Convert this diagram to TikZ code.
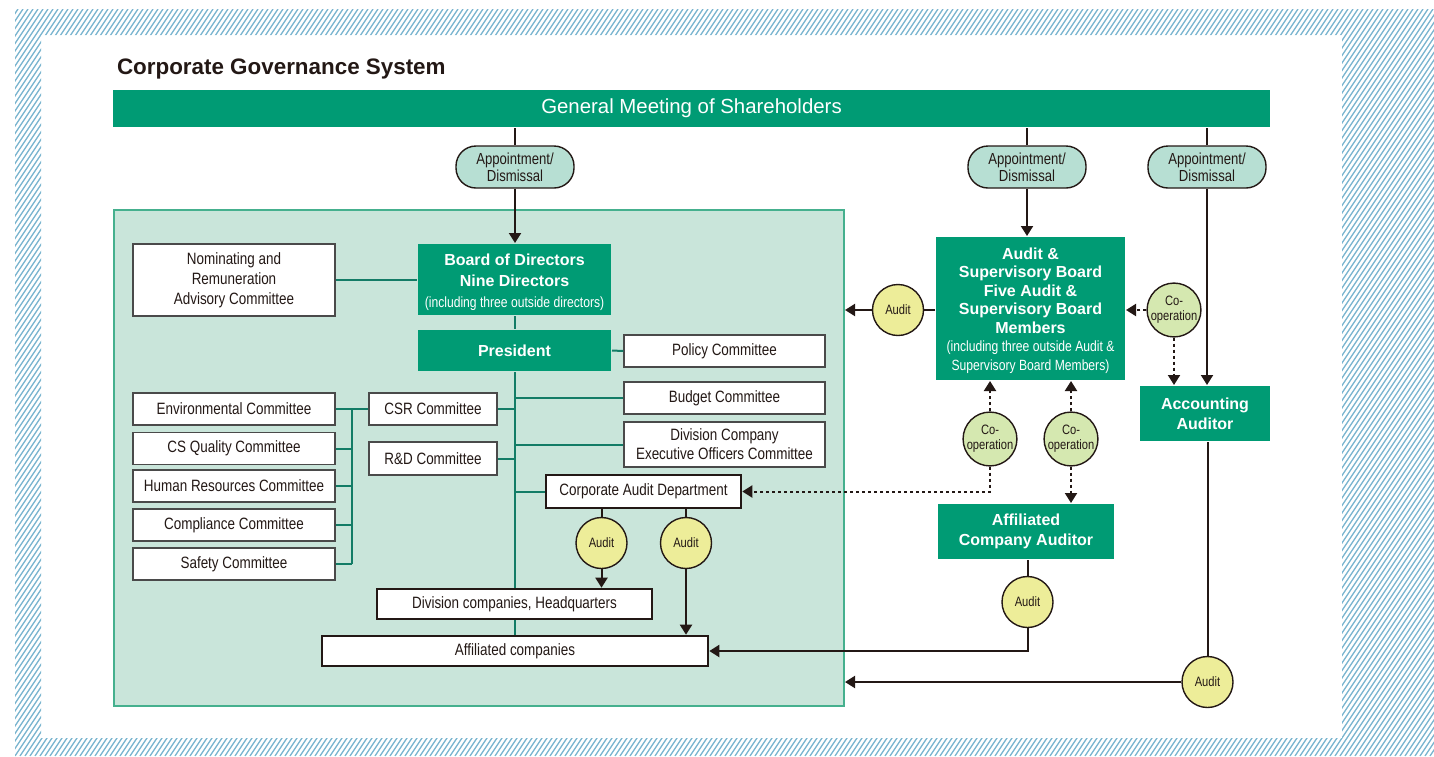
\documentclass[tikz,border=0pt]{standalone}
\usepackage{fontspec}
\setmainfont{Liberation Sans}
\newfontfamily\condfont[FakeStretch=0.82]{Liberation Sans}
\usetikzlibrary{arrows.meta}

\definecolor{govgreen}{HTML}{009B74}
\definecolor{panelfill}{HTML}{C9E5DA}
\definecolor{panelline}{HTML}{45B08E}
\definecolor{linkgreen}{HTML}{137C66}
\definecolor{pillfill}{HTML}{B7DFD3}
\definecolor{auditfill}{HTML}{EDED99}
\definecolor{coopfill}{HTML}{D5E8B0}
\definecolor{ink}{HTML}{231815}
\definecolor{boxgray}{HTML}{4A4A4A}
\definecolor{hatchblue}{HTML}{7AB5CF}

\newcommand\smallnote[1]{{\condfont\mdseries\fontsize{7.4}{9.2}\selectfont #1}}

\begin{document}
\begin{tikzpicture}[x=0.5pt, y=-0.5pt, line width=1pt, ink,
    greenbox/.style = {fill = govgreen, text = white, inner sep = 0pt, align = center,
                       font = \bfseries\fontsize{8}{10}\selectfont},
    combox/.style = {draw = boxgray, fill = white, text = ink, line width = 0.7pt, inner sep = 0pt,
                     align = center, font = \condfont\fontsize{8.2}{9.6}\selectfont},
    unitbox/.style = {combox, draw = ink, line width = 1.3pt},
    pill/.style = {draw = ink, fill = pillfill, line width = 0.7pt, rounded corners = 10pt,
                   minimum width = 59pt, minimum height = 21pt, inner sep = 0pt, align = center,
                   font = \condfont\fontsize{8}{8.6}\selectfont},
    auditc/.style = {circle, draw = ink, fill = auditfill, line width = 0.7pt, minimum size = 25.5pt,
                     inner sep = 0pt, font = \condfont\fontsize{6.8}{7}\selectfont},
    coopc/.style = {circle, draw = ink, fill = coopfill, line width = 0.7pt, minimum size = 26pt,
                    inner sep = 0pt, align = center, font = \condfont\fontsize{6.8}{7.6}\selectfont},
    link/.style = {linkgreen, line width = 1pt},
    arr/.style = {-{Triangle[width=6pt,length=5pt]}},
    coarr/.style = {arr, dash pattern = on 1.5pt off 1.5pt}]

  \useasboundingbox (0,0) rectangle (1434,756);

  % hatched frame
  \begin{scope}[even odd rule]
    \clip (15,9) rectangle (1434,756) (41,35) rectangle (1342,738);
    \foreach \x in {-500,-495,...,1434}
      \draw[hatchblue, line width = 0.65pt] (\x,756) -- ++(498,-747);
  \end{scope}

  \node[anchor = base west, inner sep = 0pt, font = \bfseries\fontsize{11.2}{13}\selectfont] (title)
    at (116,74) {Corporate Governance System};
  \node[greenbox, minimum width = 578.5pt, minimum height = 18.5pt, font = \fontsize{10.2}{12}\selectfont]
    (gm) at (691.5,108.5) {General Meeting of Shareholders};

  \node[draw = panelline, fill = panelfill, line width = 1pt, minimum width = 365pt,
        minimum height = 248pt, inner sep = 0pt] (panel) at (479,458) {};

  \node[pill] (ap1) at (515,167) {Appointment/\\Dismissal};
  \node[pill] (ap2) at (1027,167) {Appointment/\\Dismissal};
  \node[pill] (ap3) at (1207,167) {Appointment/\\Dismissal};

  % executive side
  \node[greenbox, minimum width = 96.5pt, minimum height = 35.5pt, font = \bfseries\fontsize{8}{10.5}\selectfont]
    (board) at (514.5,279.5) {\rule{0pt}{9pt}Board of Directors\\Nine Directors\\\smallnote{(including three outside directors)}};
  \node[combox, minimum width = 101pt, minimum height = 36pt, font = \condfont\fontsize{8.2}{10}\selectfont]
    (nom) at (234,280) {Nominating and\\Remuneration\\Advisory Committee};
  \node[greenbox, minimum width = 96.5pt, minimum height = 20.5pt] (pres) at (514.5,350.5) {President};
  \node[combox, minimum width = 100.5pt, minimum height = 16pt] (policy) at (724.5,351) {Policy Committee};
  \node[combox, minimum width = 100.5pt, minimum height = 16pt] (budget) at (724.5,398) {Budget Committee};
  \node[combox, minimum width = 100.5pt, minimum height = 22.5pt] (divexec) at (724.5,444.5)
    {Division Company\\Executive Officers Committee};
  \node[combox, minimum width = 64pt, minimum height = 16pt] (csr) at (433,409) {CSR Committee};
  \node[combox, minimum width = 64pt, minimum height = 16.5pt] (rnd) at (433,458.5) {R\&D Committee};
  \node[unitbox, minimum width = 97.5pt, minimum height = 16.5pt] (cad) at (643.5,491.5)
    {Corporate Audit Department};

  \node[combox, minimum width = 101pt, minimum height = 16pt] (env) at (234,409) {Environmental Committee};
  \node[combox, minimum width = 101pt, minimum height = 16pt] (csq) at (234,448.5) {CS Quality Committee};
  \node[combox, minimum width = 101pt, minimum height = 16pt] (hr) at (234,486) {Human Resources Committee};
  \node[combox, minimum width = 101pt, minimum height = 16pt] (comp) at (234,525) {Compliance Committee};
  \node[combox, minimum width = 101pt, minimum height = 16pt] (safety) at (234,564) {Safety Committee};
  \coordinate (bus) at (352,409);

  \node[auditc] (au1) at (601.5,543) {Audit};
  \node[auditc] (au2) at (686,543) {Audit};
  \node[unitbox, minimum width = 137.5pt, minimum height = 15pt] (divhq) at (514.5,604)
    {Division companies, Headquarters};
  \node[unitbox, minimum width = 193pt, minimum height = 15pt] (affil) at (515,651) {Affiliated companies};

  % auditor side
  \node[greenbox, minimum width = 94.5pt, minimum height = 71.5pt, font = \bfseries\fontsize{8}{9.25}\selectfont]
    (asb) at (1030.5,308.5) {\rule{0pt}{8pt}Audit \&\\Supervisory Board\\Five Audit \&\\Supervisory Board\\Members\\
    \smallnote{(including three outside Audit \&}\\\smallnote{Supervisory Board Members)}};
  \node[auditc] (auasb) at (898,310) {Audit};
  \node[coopc] (coacct) at (1174,310) {Co-\\operation};
  \node[greenbox, minimum width = 65pt, minimum height = 27.5pt] (acct) at (1205,413.5) {Accounting\\Auditor};
  \node[coopc] (co1) at (990,439) {Co-\\operation};
  \node[coopc] (co2) at (1071,439) {Co-\\operation};
  \node[greenbox, minimum width = 88pt, minimum height = 27.5pt] (aca) at (1026,531.5)
    {Affiliated\\Company Auditor};
  \node[auditc] (auaca) at (1027.5,602) {Audit};
  \node[auditc] (auacct) at (1207.5,682) {Audit};

  % appointment lines
  \draw (gm.south -| ap1) -- (ap1.north);
  \draw (gm.south -| ap2) -- (ap2.north);
  \draw (gm.south -| ap3) -- (ap3.north);
  \draw[arr] (ap1.south) -- (ap1.south |- board.north);
  \draw[arr] (ap2.south) -- (ap2.south |- asb.north);
  \draw[arr] (ap3.south) -- (ap3.south |- acct.north);

  % committee links
  \draw[link] (nom.east) -- (nom.east -| board.west);
  \draw[link] (board.south) -- (pres.north);
  \draw[link] (pres.east) -- (policy.west);
  \draw[link] (pres.south) -- (pres.south |- divhq.north);
  \draw[link] (pres.south |- divhq.south) -- (pres.south |- affil.north);
  \draw[link] (budget.west) -- (budget.west -| pres.south);
  \draw[link] (divexec.west) -- (divexec.west -| pres.south);
  \draw[link] (csr.east) -- (csr.east -| pres.south);
  \draw[link] (rnd.east) -- (rnd.east -| pres.south);
  \draw[link] (cad.west) -- (cad.west -| pres.south);
  \draw[link] (env.east) -- (csr.west);
  \draw[link] (bus) -- (bus |- safety.east);
  \foreach \c in {csq, hr, comp, safety}
    \draw[link] (\c.east) -- (\c.east -| bus);

  % internal audit
  \draw (au1 |- cad.south) -- (au1.north);
  \draw (au2 |- cad.south) -- (au2.north);
  \draw[arr] (au1.south) -- (au1.south |- divhq.north);
  \draw[arr] (au2.south) -- (au2.south |- affil.north);

  % audit and co-operation
  \draw (asb.west |- auasb) -- (auasb.east);
  \draw[arr] (auasb.west) -- (auasb.west -| panel.east);
  \draw[coarr] (coacct.west) -- (coacct.west -| asb.east);
  \draw[coarr] (coacct.south) -- (coacct.south |- acct.north);
  \draw[coarr] (co1.north) -- (co1.north |- asb.south);
  \draw[coarr] (co1.south) |- (cad.east);
  \draw[coarr] (co2.north) -- (co2.north |- asb.south);
  \draw[coarr] (co2.south) -- (co2.south |- aca.north);
  \draw (aca.south -| auaca) -- (auaca.north);
  \draw[arr] (auaca.south) |- (affil.east);
  \draw (acct.south -| auacct) -- (auacct.north);
  \draw[arr] (auacct.west) -- (auacct.west -| panel.east);
\end{tikzpicture}
\end{document}
